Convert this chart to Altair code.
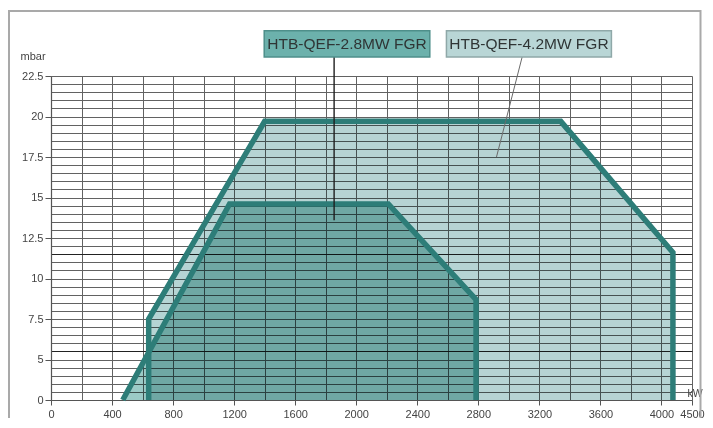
import json
import altair as alt
import pandas as pd

# ---- working fields (kW, mbar), listed in outline order ----
f42_kw = [640, 640, 1400, 3340, 4075, 4075]
f42_mbar = [0, 7.5, 19.7, 19.7, 11.6, 0]
f28_kw = [470, 1170, 2210, 2785, 2785]
f28_mbar = [0, 14.6, 14.6, 8.7, 0]

# ---- axis ticks / labels as printed on the original ----
x_tick_values = [0, 400, 800, 1200, 1600, 2000, 2400, 2800, 3200, 3600, 4000, 4200]
x_tick_labels = ["0", "400", "800", "1200", "1600", "2000", "2400", "2800", "3200", "3600", "4000", "4500"]
y_tick_values = [0, 5, 7.5, 10, 12.5, 15, 17.5, 20, 22.5]
y_tick_labels = ["0", "5", "7.5", "10", "12.5", "15", "17.5", "20", "22.5"]

# ---- model label boxes and leader lines (data units) ----
box_names = ["HTB-QEF-2.8MW FGR", "HTB-QEF-4.2MW FGR"]
box_kw_left = [1397, 2591]
box_kw_right = [2482, 3672]
box_mbar_bottom = [23.67, 23.67]
box_mbar_top = [25.29, 25.29]
leader_kw_to = [1855, 2919]
leader_kw_from = [1855, 3087]
leader_mbar_to = [13.6, 17.5]

S42, S28 = "HTB-QEF-4.2MW FGR", "HTB-QEF-2.8MW FGR"

outline = pd.DataFrame(
    {"series": [S42] * len(f42_kw) + [S28] * len(f28_kw),
     "i": list(range(len(f42_kw))) + list(range(len(f28_kw))),
     "kw": f42_kw + f28_kw,
     "mbar": f42_mbar + f28_mbar}
)


def area_points(kw, mbar, name):
    rows = []
    for k, m in zip(kw, mbar):
        if m == 0 and kw.count(k) > 1:
            continue
        rows.append({"series": name, "kw": k, "mbar": m})
    return rows


area_df = pd.DataFrame(area_points(f42_kw, f42_mbar, S42) + area_points(f28_kw, f28_mbar, S28))

boxes = pd.DataFrame({
    "name": box_names, "l": box_kw_left, "r": box_kw_right,
    "b": box_mbar_bottom, "t": box_mbar_top,
})
boxes["cx"] = (boxes["l"] + boxes["r"]) / 2
boxes["cy"] = (boxes["b"] + boxes["t"]) / 2

leaders = pd.DataFrame({
    "name": box_names, "x1": leader_kw_from, "y1": box_mbar_bottom,
    "x2": leader_kw_to, "y2": leader_mbar_to,
})

FONT = "Liberation Sans, Arial, sans-serif"
GRID = "#626262"

xs = alt.Scale(domain=[0, 4200], nice=False, zero=False)
ys = alt.Scale(domain=[0, 5, 22.5], range=[324, 283.5, 0], nice=False, zero=False)

x_grid = list(range(0, 4201, 200))
y_grid = [0, 1, 2, 3, 4] + [5 + 0.5 * i for i in range(36)]

x_test = f"indexof({json.dumps(x_tick_values)}, datum.value) >= 0"
y_test = f"indexof({json.dumps(y_tick_values)}, datum.value) >= 0"

x_axis = alt.Axis(
    values=x_grid,
    labelExpr=f"{x_test} ? {json.dumps(x_tick_labels)}[indexof({json.dumps(x_tick_values)}, datum.value)] : ''",
    tickOpacity={"condition": {"test": x_test, "value": 1}, "value": 0},
    grid=True, gridColor=GRID, gridWidth=1,
    tickSize=5, tickColor="#555", domainColor="#555", domainWidth=1.2,
    labelFont=FONT, labelFontSize=11, labelColor="#444", labelPadding=3,
    labelOverlap=False, labelFlush=False, labelBound=False,
    title="kW", titleFont=FONT, titleFontSize=10.5, titleFontWeight="normal",
    titleColor="#444", titleX=636, titleY=-7, titleAlign="left", titleBaseline="middle",
    titleAngle=0,
)
y_axis = alt.Axis(
    values=y_grid,
    labelExpr=f"{y_test} ? {json.dumps(y_tick_labels)}[indexof({json.dumps(y_tick_values)}, datum.value)] : ''",
    tickOpacity={"condition": {"test": y_test, "value": 1}, "value": 0},
    grid=True,
    gridColor={"condition": {"test": "datum.value == 5.5 || datum.value == 11.5", "value": "#222222"},
               "value": GRID},
    gridWidth=1,
    tickSize=6, tickColor="#555", domainColor="#555", domainWidth=1.2,
    labelFont=FONT, labelFontSize=11, labelColor="#444", labelPadding=2,
    labelOverlap=False, labelFlush=False, labelBound=False,
    title="mbar", titleFont=FONT, titleFontSize=11, titleFontWeight="normal",
    titleColor="#444", titleAngle=0, titleX=-31, titleY=-20, titleAlign="left",
    titleBaseline="middle",
)


def X(field):
    return alt.X(field, scale=xs, axis=x_axis)


def Y(field):
    return alt.Y(field, scale=ys, axis=y_axis)


fill_scale = alt.Scale(domain=[S42, S28], range=["#b6d4d4", "#9bcac6"])

areas = alt.Chart(area_df).mark_area(blend="multiply").encode(
    x=X("kw:Q"),
    y=Y("mbar:Q"),
    y2=alt.datum(0),
    color=alt.Color("series:N", scale=fill_scale, legend=None),
    detail="series:N",
)

lines = alt.Chart(outline).mark_line(strokeWidth=5.5, color="#2d7d78", strokeJoin="miter").encode(
    x=X("kw:Q"),
    y=Y("mbar:Q"),
    detail="series:N",
    order="i:Q",
)

leader_lines = alt.Chart(leaders).mark_rule().encode(
    x=X("x1:Q"),
    x2="x2:Q",
    y=Y("y1:Q"),
    y2="y2:Q",
    stroke=alt.Stroke("name:N", scale=alt.Scale(domain=box_names, range=["#1f1f1f", "#6a6a6a"]), legend=None),
    strokeWidth=alt.StrokeWidth("name:N", scale=alt.Scale(domain=box_names, range=[1.4, 1.0]), legend=None),
)

box_rects = alt.Chart(boxes).mark_rect().encode(
    x=X("l:Q"),
    x2="r:Q",
    y=Y("t:Q"),
    y2="b:Q",
    fill=alt.Fill("name:N", scale=alt.Scale(domain=box_names, range=["#6cb1ac", "#b9d6d6"]), legend=None),
)

box_border_2 = alt.Chart(boxes[boxes["name"] == box_names[0]]).mark_rect(
    fillOpacity=0, stroke="#4e8f8a", strokeWidth=1.5
).encode(x=X("l:Q"), x2="r:Q", y=Y("t:Q"), y2="b:Q")

box_border_4 = alt.Chart(boxes[boxes["name"] == box_names[1]]).mark_rect(
    fillOpacity=0, stroke="#8fa8a8", strokeWidth=1.5
).encode(x=X("l:Q"), x2="r:Q", y=Y("t:Q"), y2="b:Q")

box_text = alt.Chart(boxes).mark_text(
    font=FONT, fontSize=15.5, color="#2f3535", align="center", baseline="middle"
).encode(
    x=X("cx:Q"),
    y=Y("cy:Q"),
    text="name:N",
)

frame = alt.Chart(pd.DataFrame({"a": [0]})).mark_rect(
    fillOpacity=0, stroke="#a9a9a9", strokeWidth=2
).encode(
    x=alt.value(-42), x2=alt.value(649.5), y=alt.value(-65), y2=alt.value(370)
)

chart = alt.layer(
    areas, lines, leader_lines, box_rects, box_border_2, box_border_4, box_text, frame
).resolve_scale(
    color="independent", stroke="independent", fill="independent"
).properties(
    width=641, height=324,
    autosize=alt.AutoSizeParams(type="none"),
    padding={"left": 43, "top": 68, "right": 13, "bottom": 18},
).configure(background="white").configure_view(stroke=None)

chart.save("out.html", embed_options={"renderer": "svg", "actions": False})
